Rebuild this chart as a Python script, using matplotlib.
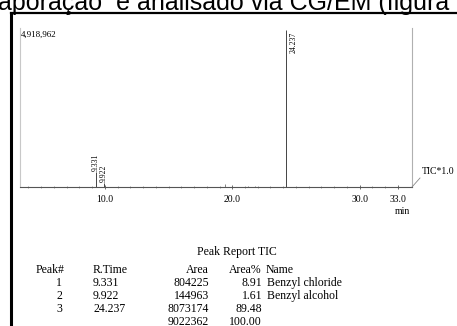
import matplotlib.pyplot as plt
from matplotlib.lines import Line2D

# chromatogram peaks (retention time in min, intensity)
peak_times = [9.331, 9.922, 24.237]
peak_heights = [470000, 110000, 4918962]
peak_labels = ["9.331", "9.922", "24.237"]
# small unlabelled bumps on the baseline
noise_times = [19.47, 21.25, 21.75]
noise_heights = [95000, 30000, 40000]

xticks = [10.0, 20.0, 30.0, 33.0]
max_label = "4,918,962"

# peak report table
rep_peak = ["1", "2", "3"]
rep_rtime = ["9.331", "9.922", "24.237"]
rep_area = ["804225", "144963", "8073174"]
rep_pct = ["8.91", "1.61", "89.48"]
rep_name = ["Benzyl chloride", "Benzyl alcohol", ""]
total_area = "9022362"
total_pct = "100.00"

W, H = 457, 326
serif = "Liberation Serif"

fig = plt.figure(figsize=(W / 100, H / 100), dpi=100)

def fx(px):
    return px / W

def fy(py):
    return 1 - py / H

# cut-off sentence of the surrounding document
fig.text(fx(-2), fy(10), "aporação  e analisado via CG/EM (figura", fontsize=18,
         family="Liberation Sans", va="baseline", ha="left")

# frame of the pasted figure
fig.add_artist(Line2D([fx(11), 1], [fy(13), fy(13)], color="black", lw=1.6))
fig.add_artist(Line2D([fx(11), fx(11)], [fy(13), 0], color="black", lw=2.2))

ax = fig.add_axes([fx(20), fy(187), fx(412) - fx(20), fy(28) - fy(187)])
ax.vlines(peak_times, 0, peak_heights, color="#444444", lw=0.7)
ax.vlines(noise_times, 0, noise_heights, color="#555555", lw=0.5)
ax.set_xlim(3.35, 34.1)
ax.set_ylim(0, max(peak_heights) * 1.012)

ax.spines["top"].set_visible(False)
ax.spines["left"].set_color("#c8c8c8")
ax.spines["right"].set_color("#b0b0b0")
ax.spines["bottom"].set_color("#555555")
for sp in ["left", "right", "bottom"]:
    ax.spines[sp].set_linewidth(0.8)

ax.set_yticks([])
ax.set_xticks(xticks)
ax.set_xticklabels([f"{t:.1f}" for t in xticks], fontsize=7, family=serif)
ax.set_xticks([t for t in range(4, 34) if t not in (10, 20, 30)], minor=True)
ax.tick_params(axis="x", which="major", length=3, width=0.6, color="#555555",
               direction="inout", pad=4)
ax.tick_params(axis="x", which="minor", length=2, width=0.5, color="#777777",
               direction="inout")

ax.text(0.003, 0.985, max_label, transform=ax.transAxes, fontsize=6.5,
        family=serif, va="top", ha="left")

# peak labels
for t, h, lab in zip(peak_times, peak_heights, peak_labels):
    if h > 0.5 * max(peak_heights):
        ax.annotate(lab, (t, h), xytext=(2.5, -1), textcoords="offset points",
                    rotation=90, fontsize=5.5, family=serif, va="top", ha="left")
    else:
        ax.annotate(lab, (t, h), xytext=(0, 1), textcoords="offset points",
                    rotation=90, fontsize=5.5, family=serif, va="bottom",
                    ha="center")

fig.text(fx(402), fy(211), "min", fontsize=7, family=serif, ha="center", va="center")
fig.add_artist(Line2D([fx(412), fx(420)], [fy(187), fy(178)], color="#888888", lw=0.6))
fig.text(fx(422), fy(171), "TIC*1.0", fontsize=7, family=serif, ha="left", va="center")

# peak report
fs = 8.5
fig.text(fx(237), fy(252), "Peak Report TIC", fontsize=fs, family=serif,
         ha="center", va="center")
rows_y = [283, 296, 309, 322]
hy = fy(270)
fig.text(fx(36), hy, "Peak#", fontsize=fs, family=serif, va="center", ha="left")
fig.text(fx(93), hy, "R.Time", fontsize=fs, family=serif, va="center", ha="left")
fig.text(fx(209), hy, "Area", fontsize=fs, family=serif, va="center", ha="right")
fig.text(fx(262), hy, "Area%", fontsize=fs, family=serif, va="center", ha="right")
fig.text(fx(266), hy, "Name", fontsize=fs, family=serif, va="center", ha="left")
for i in range(len(rep_peak)):
    y = fy(rows_y[i])
    fig.text(fx(59), y, rep_peak[i], fontsize=fs, family=serif, va="center", ha="center")
    fig.text(fx(93), y, rep_rtime[i], fontsize=fs, family=serif, va="center", ha="left")
    fig.text(fx(209), y, rep_area[i], fontsize=fs, family=serif, va="center", ha="right")
    fig.text(fx(262), y, rep_pct[i], fontsize=fs, family=serif, va="center", ha="right")
    fig.text(fx(267), y, rep_name[i], fontsize=fs, family=serif, va="center", ha="left")
fig.text(fx(209), fy(rows_y[3]), total_area, fontsize=fs, family=serif, va="center", ha="right")
fig.text(fx(262), fy(rows_y[3]), total_pct, fontsize=fs, family=serif, va="center", ha="right")

fig.savefig("out.png", dpi=100)
